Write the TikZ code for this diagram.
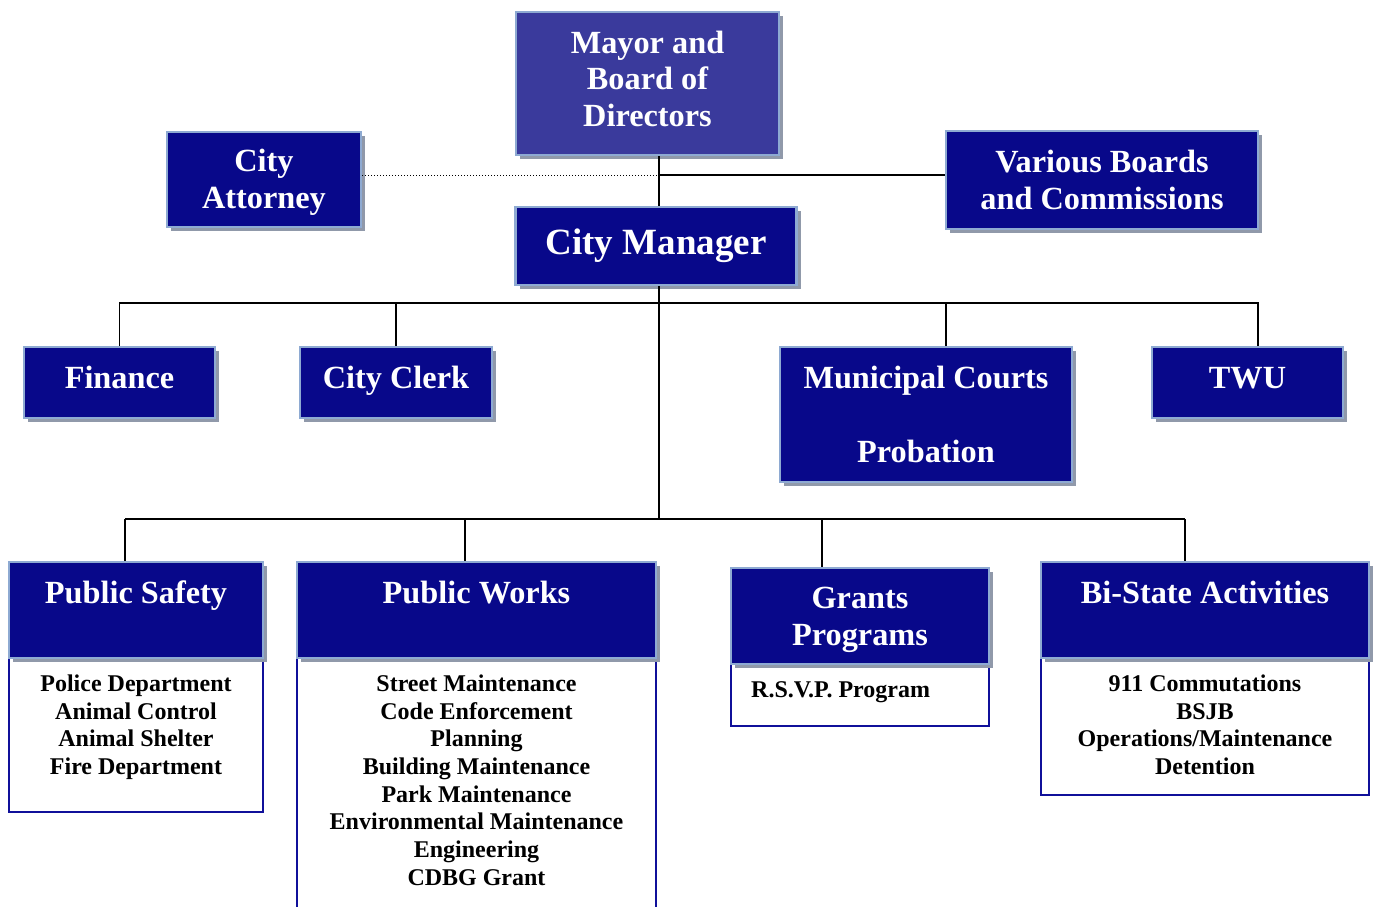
\documentclass[tikz,border=0pt]{standalone}
\usepackage{fontspec}
\setmainfont{Liberation Serif}
\usetikzlibrary{shadows}
\definecolor{navy}{HTML}{08088A}
\definecolor{rim}{HTML}{8EAAD2}
\definecolor{shade}{HTML}{9099AA}
\definecolor{mayorblue}{HTML}{3A3A9C}
\definecolor{listrim}{HTML}{10109A}
\tikzset{
  hbox/.style={draw=rim, line width=2.5pt, fill=navy, inner sep=0pt, text=white,
    font=\bfseries\fontsize{32.3}{36.5}\selectfont, align=center,
    drop shadow={shadow xshift=4pt, shadow yshift=-4pt, fill=shade, opacity=1}},
  onebox/.style={hbox, text height=22pt, text depth=11pt},
  lbox/.style={draw=listrim, line width=2pt, fill=white, inner sep=0pt},
  htext/.style={text=white, inner sep=0pt, font=\bfseries\fontsize{32.3}{36.5}\selectfont, align=center},
  ltext/.style={text=black, inner sep=0pt, font=\bfseries\fontsize{24}{27.7}\selectfont, align=center},
  link/.style={line width=1.6pt, draw=black},
  dotlink/.style={line width=1pt, draw=black, dotted}
}
\begin{document}
\begin{tikzpicture}[x=1pt,y=-1pt]
\useasboundingbox (0,0) rectangle (1376,906);
\clip (0,0) rectangle (1376,906);
\fill[white] (0,0) rectangle (1376,906);

% coordinates
\coordinate (spine) at (659,175);
\coordinate (b1) at (659,303);
\coordinate (tc) at (946,303);
\coordinate (tt) at (1258,303);
\coordinate (b2) at (659,519);
\coordinate (s1) at (125,519);
\coordinate (s2) at (465,519);
\coordinate (s3) at (822,519);
\coordinate (s4) at (1185,519);

% top boxes
\node[hbox, fill=mayorblue, minimum width=263pt, minimum height=143pt] (mayor) at (647.5,83.5) {};
\node[htext] (mayort) at (647.5,78.5) {Mayor and\\Board of\\Directors};
\node[hbox, minimum width=281pt, minimum height=78pt, font=\bfseries\fontsize{37}{40}\selectfont] (cm) at (656,246) {City Manager};
\node[hbox, minimum width=194pt, minimum height=95pt] (ca) at (264,179.5) {};
\node[htext] (cat) at (264,182.5) {City\\Attorney};
\node[hbox, minimum width=312pt, minimum height=98pt] (vb) at (1102,180) {Various Boards\\and Commissions};

% second row
\node[onebox, minimum width=191pt, minimum height=71pt] (fin) at (119.5,382.5) {Finance};
\node[onebox, minimum width=192pt, minimum height=71pt] (clerk) at (396,382.5) {City Clerk};
\node[hbox, minimum width=292pt, minimum height=135pt] (courts) at (926,414.5) {Municipal Courts\\[37pt]Probation};
\node[onebox, minimum width=191pt, minimum height=71pt] (twu) at (1247.5,382.5) {TWU};

% list boxes
\node[lbox, minimum width=254pt, minimum height=154pt] (psl) at (136,735) {};
\node[lbox, minimum width=359pt, minimum height=262pt] (pwl) at (476.5,789) {};
\node[lbox, minimum width=258pt, minimum height=62pt] (grl) at (860,695) {};
\node[lbox, minimum width=328pt, minimum height=137pt] (bsl) at (1205,726.5) {};

% headers
\node[hbox, minimum width=254pt, minimum height=96pt] (ps) at (136,610) {};
\node[htext, anchor=base] (pst) at (136,603) {Public Safety};
\node[hbox, minimum width=359pt, minimum height=96pt] (pw) at (476.5,610) {};
\node[htext, anchor=base] (pwt) at (476.5,603) {Public Works};
\node[hbox, minimum width=258pt, minimum height=96pt] (gr) at (860,616) {};
\node[htext] (grt) at (860,620) {Grants\\Programs};
\node[hbox, minimum width=328pt, minimum height=96pt] (bs) at (1205,610) {};
\node[htext, anchor=base] (bst) at (1205,603) {Bi-State Activities};

% list texts
\node[ltext, anchor=north] (pslt) at (136,674.5) {Police Department\\Animal Control\\Animal Shelter\\Fire Department};
\node[ltext, anchor=north] (pwlt) at (476.5,674.5) {Street Maintenance\\Code Enforcement\\Planning\\Building Maintenance\\Park Maintenance\\Environmental Maintenance\\Engineering\\CDBG Grant};
\node[ltext, anchor=base west] (grlt) at (751,697.5) {R.S.V.P. Program};
\node[ltext, anchor=north] (bslt) at (1205,674.5) {911 Commutations\\BSJB\\Operations/Maintenance\\Detention};

% connectors
\draw[link] (mayor.south -| spine) -- (cm.north -| spine);
\draw[dotlink] (ca.east |- spine) -- (spine);
\draw[link] (spine) -- (vb.west |- spine);
\draw[link] (cm.south -| b2) -- (b2);
\draw[link] (fin.north) -- (fin.north |- b1) -- (tt) -- (tt |- twu.north);
\draw[link] (clerk.north) -- (clerk.north |- b1);
\draw[link] (tc) -- (tc |- courts.north);
\draw[link] (s1) -- (s4);
\draw[link] (s1) -- (s1 |- ps.north);
\draw[link] (s2) -- (s2 |- pw.north);
\draw[link] (s3) -- (s3 |- gr.north);
\draw[link] (s4) -- (s4 |- bs.north);
\end{tikzpicture}
\end{document}
